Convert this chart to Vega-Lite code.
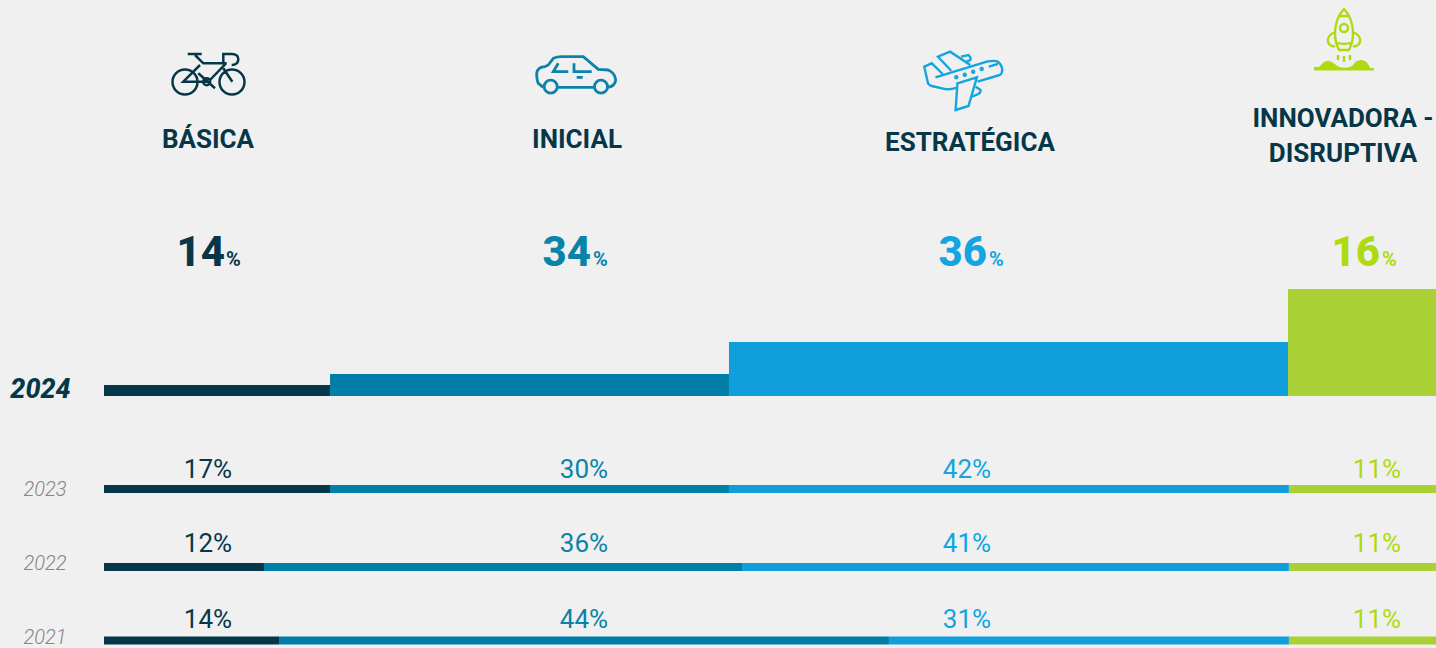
{"$schema":"https://vega.github.io/schema/vega-lite/v6.json","width":1436,"height":648,"autosize":{"type":"none"},"padding":0,"background":"#F0F0F0","config":{"view":{"stroke":null},"text":{"font":"Roboto"}},
"datasets":{"shares":[
{"year":2024,"category":"BÁSICA","col":1,"share":14,"label":"14%","start":0,"end":16.97,"height_index":11},
{"year":2024,"category":"INICIAL","col":2,"share":34,"label":"34%","start":16.97,"end":46.92,"height_index":22},
{"year":2024,"category":"ESTRATÉGICA","col":3,"share":36,"label":"36%","start":46.92,"end":88.89,"height_index":54},
{"year":2024,"category":"INNOVADORA - DISRUPTIVA","col":4,"share":16,"label":"16%","start":88.89,"end":100,"height_index":107},
{"year":2023,"category":"BÁSICA","col":1,"share":17,"label":"17%","start":0,"end":16.97},
{"year":2023,"category":"INICIAL","col":2,"share":30,"label":"30%","start":16.97,"end":46.92},
{"year":2023,"category":"ESTRATÉGICA","col":3,"share":42,"label":"42%","start":46.92,"end":88.96},
{"year":2023,"category":"INNOVADORA - DISRUPTIVA","col":4,"share":11,"label":"11%","start":88.96,"end":100},
{"year":2022,"category":"BÁSICA","col":1,"share":12,"label":"12%","start":0,"end":12.01},
{"year":2022,"category":"INICIAL","col":2,"share":36,"label":"36%","start":12.01,"end":47.9},
{"year":2022,"category":"ESTRATÉGICA","col":3,"share":41,"label":"41%","start":47.9,"end":88.96},
{"year":2022,"category":"INNOVADORA - DISRUPTIVA","col":4,"share":11,"label":"11%","start":88.96,"end":100},
{"year":2021,"category":"BÁSICA","col":1,"share":14,"label":"14%","start":0,"end":13.14},
{"year":2021,"category":"INICIAL","col":2,"share":44,"label":"44%","start":13.14,"end":58.93},
{"year":2021,"category":"ESTRATÉGICA","col":3,"share":31,"label":"31%","start":58.93,"end":88.96},
{"year":2021,"category":"INNOVADORA - DISRUPTIVA","col":4,"share":11,"label":"11%","start":88.96,"end":100}],
"heads":[
{"col":1,"header":"BÁSICA"},{"col":2,"header":"INICIAL"},{"col":3,"header":"ESTRATÉGICA"},{"col":4,"header":"INNOVADORA -\nDISRUPTIVA"}]},
"data":{"name":"shares"},
"resolve":{"scale":{"x":"independent","y":"independent","color":"independent"}},
"layer":[
{"transform":[{"filter":"datum.year==2024"}],"mark":{"type":"rect"},"encoding":{
"x":{"field":"start","type":"quantitative","axis":null,"scale":{"domain":[0,100],"range":[104,1436],"nice":false,"zero":false}},
"x2":{"field":"end"},
"y":{"field":"height_index","type":"quantitative","axis":null,"scale":{"domain":[0,107],"range":[396,289],"nice":false,"zero":false}},
"y2":{"datum":0},
"color":{"field":"col","type":"ordinal","legend":null,"scale":{"domain":[1,2,3,4],"range":["#063748","#007EA7","#119FDC","#A9D136"]}}}},
{"transform":[{"filter":"datum.year<2024"}],"mark":{"type":"rule","strokeWidth":8},"encoding":{
"x":{"field":"start","type":"quantitative","axis":null,"scale":{"domain":[0,100],"range":[104,1436],"nice":false,"zero":false}},
"x2":{"field":"end"},
"y":{"field":"year","type":"quantitative","axis":null,"scale":{"domain":[2021,2022,2023],"range":[640.5,567,489],"nice":false,"zero":false}},
"color":{"field":"col","type":"ordinal","legend":null,"scale":{"domain":[1,2,3,4],"range":["#063748","#007EA7","#119FDC","#A9D136"]}}}},
{"transform":[{"filter":"datum.year<2024"}],"mark":{"type":"text","fontSize":26,"align":"center","baseline":"middle"},"encoding":{
"text":{"field":"label"},
"x":{"field":"col","type":"quantitative","axis":null,"scale":{"domain":[1,2,3,4],"range":[208,584,967,1377],"nice":false,"zero":false}},
"y":{"field":"year","type":"quantitative","axis":null,"scale":{"domain":[2021,2022,2023],"range":[620,544,470],"nice":false,"zero":false}},
"color":{"field":"col","type":"ordinal","legend":null,"scale":{"domain":[1,2,3,4],"range":["#063748","#0A83A9","#12A5E0","#AEDB10"]}}}},
{"transform":[{"filter":"datum.year<2024 && datum.col==1"}],"mark":{"type":"text","fontSize":20,"fontStyle":"italic","fontWeight":300,"align":"center","baseline":"middle","color":"#858585"},"encoding":{
"text":{"field":"year"},
"x":{"field":"year","type":"quantitative","axis":null,"scale":{"domain":[2021,2023],"range":[45,45],"nice":false,"zero":false}},
"y":{"field":"year","type":"quantitative","axis":null,"scale":{"domain":[2021,2022,2023],"range":[638,564,490],"nice":false,"zero":false}}}},
{"transform":[{"filter":"datum.year==2024 && datum.col==1"}],"mark":{"type":"text","fontSize":27,"fontStyle":"italic","fontWeight":800,"align":"center","baseline":"middle","color":"#063748"},"encoding":{
"text":{"field":"year"},
"x":{"field":"year","type":"quantitative","axis":null,"scale":{"domain":[2023,2024],"range":[20,40.5],"nice":false,"zero":false}},
"y":{"field":"year","type":"quantitative","axis":null,"scale":{"domain":[2023,2024],"range":[489,390],"nice":false,"zero":false}}}},
{"transform":[{"filter":"datum.year==2024"}],"mark":{"type":"text","fontSize":42,"fontWeight":800,"align":"right","baseline":"alphabetic"},"encoding":{
"text":{"field":"share"},
"x":{"field":"col","type":"quantitative","axis":null,"scale":{"domain":[1,2,3,4],"range":[225,591,987,1380],"nice":false,"zero":false}},
"y":{"field":"year","type":"quantitative","axis":null,"scale":{"domain":[2023,2024],"range":[300,266],"nice":false,"zero":false}},
"color":{"field":"col","type":"ordinal","legend":null,"scale":{"domain":[1,2,3,4],"range":["#063748","#0A83A9","#12A5E0","#AEDB10"]}}}},
{"transform":[{"filter":"datum.year==2024"}],"mark":{"type":"text","fontSize":20,"fontWeight":700,"align":"left","baseline":"alphabetic","text":"%"},"encoding":{
"x":{"field":"col","type":"quantitative","axis":null,"scale":{"domain":[1,2,3,4],"range":[226,593,989,1382],"nice":false,"zero":false}},
"y":{"field":"year","type":"quantitative","axis":null,"scale":{"domain":[2023,2024],"range":[300,266],"nice":false,"zero":false}},
"color":{"field":"col","type":"ordinal","legend":null,"scale":{"domain":[1,2,3,4],"range":["#063748","#0A83A9","#12A5E0","#AEDB10"]}}}},
{"data":{"name":"heads"},"mark":{"type":"text","fontSize":26,"fontWeight":700,"align":"center","baseline":"middle","color":"#063748","lineBreak":"\n","lineHeight":35},"encoding":{
"text":{"field":"header"},
"x":{"field":"col","type":"quantitative","axis":null,"scale":{"domain":[1,2,3,4],"range":[208,577,970,1343],"nice":false,"zero":false}},
"y":{"field":"col","type":"quantitative","axis":null,"scale":{"domain":[1,2,3,4],"range":[140,140,143,119],"nice":false,"zero":false}}}},
{"data":{"name":"heads"},"transform":[{"filter":"datum.col==1"}],"mark":{"type":"point","filled":false,"size":4,"strokeWidth":2.5,"opacity":1,"color":"#063748","shape":"M-35.5,8a12.5,12.5 0 1,0 25,0a12.5,12.5 0 1,0 -25,0M11.5,8a12.5,12.5 0 1,0 25,0a12.5,12.5 0 1,0 -25,0M-20.3,-20H-6.3M-13,-19L-4.7,-10.7H18.7M-8,-9L-24.7,7.7H-1.3M18,-10.7L2,6M-9.7,-0.7L7,14.3M15.3,-11.3V-20H23.7Q30.3,-20 30.3,-14.7Q30.3,-9 23.7,-9M15.3,-5.7L24.3,7.7M-4.8,7.7a3.5,3.5 0 1,0 7,0a3.5,3.5 0 1,0 -7,0"},"encoding":{
"x":{"field":"col","type":"quantitative","axis":null,"scale":{"domain":[1,2,3,4],"range":[208,576,962,1344],"nice":false,"zero":false}},
"y":{"field":"col","type":"quantitative","axis":null,"scale":{"domain":[1,2,3,4],"range":[74,72,80,40],"nice":false,"zero":false}}}},
{"data":{"name":"heads"},"transform":[{"filter":"datum.col==2"}],"mark":{"type":"point","filled":false,"size":4,"strokeWidth":2.8,"opacity":1,"color":"#0A83A9","shape":"M-32.7,15.3L-37.7,11.3Q-39.3,8 -39.3,1.3Q-38.5,-5 -31,-5.3L-27.7,-7L-22.7,-13.7Q-19,-15.3 -14.3,-15.3H7.3L22.3,-2.7L32.3,-2Q39,1 39.7,8Q39,14 32.3,15.3M-18.7,15.3H18.3M-31.8,14.7a6.5,6.5 0 1,0 13,0a6.5,6.5 0 1,0 -13,0M18.5,14.7a6.5,6.5 0 1,0 13,0a6.5,6.5 0 1,0 -13,0M-17.7,-8.7L-22.7,-0.3H-7.7M-2,-8.7V-0.3H15.7M0.7,5.3H6.7"},"encoding":{
"x":{"field":"col","type":"quantitative","axis":null,"scale":{"domain":[1,2,3,4],"range":[208,576,962,1344],"nice":false,"zero":false}},
"y":{"field":"col","type":"quantitative","axis":null,"scale":{"domain":[1,2,3,4],"range":[74,72,80,40],"nice":false,"zero":false}}}},
{"data":{"name":"heads"},"transform":[{"filter":"datum.col==3"}],"mark":{"type":"point","filled":false,"size":4,"strokeWidth":2.4,"opacity":1,"color":"#12A5E0","shape":"M-26.6,-2.7L24.8,-18.3Q32,-20 35.9,-18.3Q40,-15 40.3,-10Q40,-6 37.7,-5L15.6,1.7M-4.6,7.3Q-10,9.5 -15.6,9.3L-30.3,6Q-33,5 -34,3.3L-37.7,-13.3L-30.3,-16.7L-19.3,-6M-10.8,-9.3L-24,-23.3L-11.9,-28.3L8.3,-15M-0.9,-23.3L6.5,-25Q9.5,-22 8.3,-20L2.8,-17.7M-4.6,3.3L14.9,-2.7L6.5,26L-6.4,30ZM13.8,6.7L18.6,10Q18.5,13 16.4,14L10,16.7M26.7,-13.3L35.9,-16M-6.7,-2.7a1,1 0 1,0 2,0a1,1 0 1,0 -2,0M1.8,-5.3a1,1 0 1,0 2,0a1,1 0 1,0 -2,0M10.2,-8.3a1,1 0 1,0 2,0a1,1 0 1,0 -2,0M18.7,-11a1,1 0 1,0 2,0a1,1 0 1,0 -2,0"},"encoding":{
"x":{"field":"col","type":"quantitative","axis":null,"scale":{"domain":[1,2,3,4],"range":[208,576,962,1344],"nice":false,"zero":false}},
"y":{"field":"col","type":"quantitative","axis":null,"scale":{"domain":[1,2,3,4],"range":[74,72,80,40],"nice":false,"zero":false}}}},
{"data":{"name":"heads"},"transform":[{"filter":"datum.col==4"}],"mark":{"type":"point","filled":false,"size":4,"strokeWidth":2.4,"opacity":1,"color":"#AEDB10","shape":"M0,-31C-6,-25 -9,-16 -9,-6C-9,1 -7,6 -5,10H5C7,6 9,1 9,-6C9,-16 6,-25 0,-31ZM-6,-24H6M-9,2Q0,6 9,2M-4,-12a4,4 0 1,0 8,0a4,4 0 1,0 -8,0M-9,-8C-14,-6 -17,-2 -16,2C-15,5 -12,7 -9,6M9,-8C14,-6 17,-2 16,2C15,5 12,7 9,6M-6,15V20M0,16V22M6,15V20"},"encoding":{
"x":{"field":"col","type":"quantitative","axis":null,"scale":{"domain":[1,2,3,4],"range":[208,576,962,1344],"nice":false,"zero":false}},
"y":{"field":"col","type":"quantitative","axis":null,"scale":{"domain":[1,2,3,4],"range":[74,72,80,40],"nice":false,"zero":false}}}},
{"data":{"name":"heads"},"transform":[{"filter":"datum.col==4"}],"mark":{"type":"point","filled":true,"size":4,"opacity":1,"color":"#AEDB10","shape":"M-30,30.5H30V28H26C24,22 20,20 17,20C12,20 10,24 8,26C4,28 0,28 -4,27C-8,26 -11,21 -16,21C-20,21 -22,24 -25,27H-30Z"},"encoding":{
"x":{"field":"col","type":"quantitative","axis":null,"scale":{"domain":[1,2,3,4],"range":[208,576,962,1344],"nice":false,"zero":false}},
"y":{"field":"col","type":"quantitative","axis":null,"scale":{"domain":[1,2,3,4],"range":[74,72,80,40],"nice":false,"zero":false}}}}
]}
